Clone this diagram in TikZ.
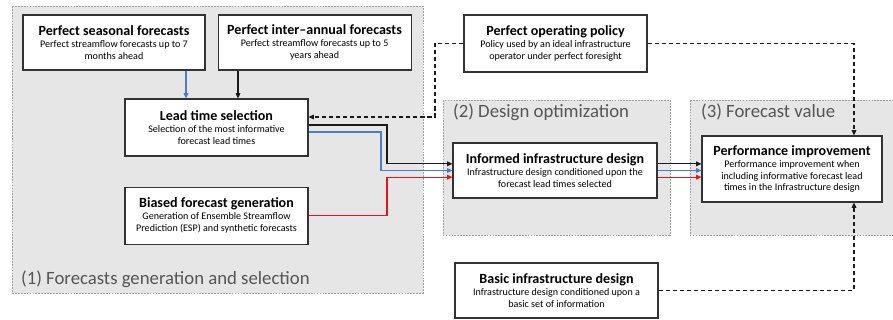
\documentclass[tikz,border=0pt]{standalone}
\usepackage{fontspec}
\setmainfont{Carlito}
\usetikzlibrary{positioning,arrows.meta,calc}
\definecolor{lineblue}{HTML}{4A7CC9}
\definecolor{linered}{HTML}{E8141C}
\definecolor{lineblack}{HTML}{1A1A1A}
\definecolor{groupgray}{HTML}{E6E6E6}
\definecolor{labelgray}{HTML}{555555}
\newcommand{\titlesize}{\fontsize{12}{13}\selectfont\bfseries}
\newcommand{\subsize}{\fontsize{8.6}{10.2}\selectfont}

\begin{document}
\begin{tikzpicture}[
    x=0.03cm, y=-0.03cm,
    block/.style 2 args={rectangle, draw=black!80, fill=white, line width=0.9pt,
                  minimum width=#1, minimum height=#2, align=center,
                  inner sep=1pt, font=\subsize},
    group/.style={draw=gray!75, fill=groupgray, line width=0.6pt,
                  dash pattern=on 1.5pt off 1pt},
    grouplabel/.style={font=\fontsize{16}{18}\selectfont, text=labelgray, anchor=west},
    arrow/.style={-{Triangle[length=4.5pt, width=4pt]}, line width=0.9pt, color=#1},
    dasharrow/.style={arrow=#1, dash pattern=on 3.5pt off 2.5pt},
]
\useasboundingbox (0,0) rectangle (893,320);

% Groups
\draw[group] (12,6) rectangle (423,293);
\draw[group] (443,100) rectangle (670,235);
\draw[group] (690,100) rectangle (900,235);
\node[grouplabel] (g1label) at (17,279) {(1) Forecasts generation and selection};
\node[grouplabel] (g2label) at (449,112) {(2) Design optimization};
\node[grouplabel] (g3label) at (697,112) {(3) Forecast value};

% Forecast inputs
\node[block={5.46cm}{1.65cm}] (seasonal) at (114,42.5)
  {{\titlesize Perfect seasonal forecasts}\\Perfect streamflow forecasts up to 7\\months ahead};
\node[block={5.79cm}{1.65cm}, right=0.36cm of seasonal] (interannual)
  {{\titlesize Perfect inter--annual forecasts}\\Perfect streamflow forecasts up to 5\\years ahead};

% Selection and generation
\node[block={5.49cm}{1.71cm}] (lead) at (216.5,127.5)
  {{\titlesize Lead time selection}\\Selection of the most informative\\forecast lead times};
\node[block={5.49cm}{1.71cm}, below=0.9cm of lead] (biased)
  {{\titlesize Biased forecast generation}\\Generation of Ensemble Streamflow\\Prediction (ESP) and synthetic forecasts};

% Policy
\node[block={5.49cm}{1.71cm}] (policy) at (555.5,43.5)
  {{\titlesize Perfect operating policy}\\Policy used by an ideal infrastructure\\operator under perfect foresight};

% Design
\node[block={6.12cm}{1.65cm}] (informed) at (555,170.5)
  {{\titlesize Informed infrastructure design}\\Infrastructure design conditioned upon the\\forecast lead times selected};
\node[block={6.09cm}{1.65cm}] (basic) at (556.5,290.5)
  {{\titlesize Basic infrastructure design}\\Infrastructure design conditioned upon a\\basic set of information};

% Value
\node[block={5.4cm}{1.98cm}] (perf) at (792,169)
  {{\titlesize Performance improvement}\\Performance improvement when\\including informative forecast lead\\times in the Infrastructure design};

% Turning points
\coordinate (blueX) at (186,0);
\coordinate (darkX) at (238,0);
\coordinate (leftTurn) at (435,117);
\coordinate (rightX) at (854,0);
\coordinate (joinK) at (387,0);
\coordinate (joinB) at (381,0);
\coordinate (inK) at ([yshift=0.2cm]informed.west);
\coordinate (inB) at (informed.west);
\coordinate (inR) at ([yshift=-0.2cm]informed.west);

% Inputs to lead time selection
\draw[arrow=lineblue] (seasonal.south -| blueX) -- (lead.north -| blueX);
\draw[arrow=lineblack] (interannual.south -| darkX) -- (lead.north -| darkX);

% Perfect policy links
\draw[dasharrow=lineblack] (policy.west) -| (leftTurn) -- (leftTurn -| lead.east);
\draw[dasharrow=lineblack] (policy.east) -| (perf.north -| rightX);
\draw[dasharrow=lineblack] (basic.east) -| (perf.south -| rightX);

% Forecasts to design
\draw[arrow=lineblack] ([yshift=0.075cm]lead.east) -| (joinK |- inK) -- (inK);
\draw[arrow=lineblue] ([yshift=-0.135cm]lead.east) -| (joinB |- inB) -- (inB);
\draw[arrow=linered] (biased.east) -- (biased.east -| joinK) -- (joinK |- inR) -- (inR);

% Design to value
\foreach \port/\col in {inK/lineblack, inB/lineblue, inR/linered}
  \draw[arrow=\col] (informed.east |- \port) -- (perf.west |- \port);

\end{tikzpicture}
\end{document}
